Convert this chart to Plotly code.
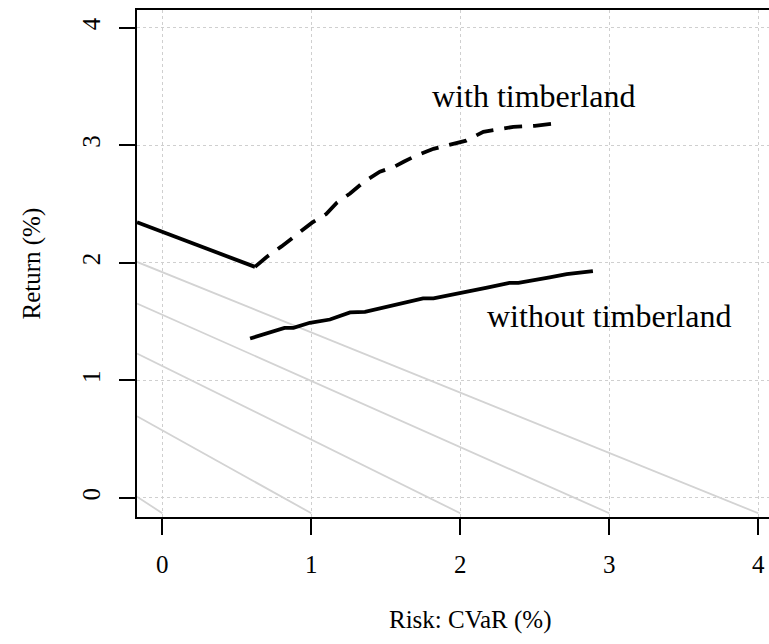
import plotly.graph_objects as go

# ---- data ----
# upper solid segment (low-risk part of frontier)
seg_x = [-0.17, 0.0, 0.622]
seg_y = [2.345, 2.264, 1.966]

# with timberland (dashed)
with_x = [0.622, 0.70, 0.80, 0.912, 1.003, 1.10, 1.17, 1.26, 1.354, 1.46, 1.56, 1.62,
          1.70, 1.82, 1.91, 2.04, 2.155, 2.27, 2.356, 2.50, 2.64]
with_y = [1.966, 2.05, 2.14, 2.245, 2.34, 2.415, 2.51, 2.59, 2.69, 2.775, 2.82, 2.86,
          2.91, 2.97, 3.00, 3.04, 3.115, 3.14, 3.157, 3.166, 3.186]

# without timberland (solid)
without_x = [0.589, 0.72, 0.82, 0.88, 0.99, 1.125, 1.26, 1.36, 1.55, 1.75, 1.82, 2.0,
             2.18, 2.33, 2.39, 2.60, 2.714, 2.89]
without_y = [1.356, 1.41, 1.447, 1.447, 1.49, 1.518, 1.578, 1.583, 1.64, 1.697, 1.697, 1.74,
             1.79, 1.83, 1.83, 1.876, 1.904, 1.93]

# grey iso-lines: left-edge value and bottom end point
iso_left_x = -0.17
iso_left_y = [0.01, 0.695, 1.229, 1.654, 2.008]
iso_end_x = [0, 1, 2, 3, 4]
iso_end_y = -0.13

x_ticks = [0, 1, 2, 3, 4]
y_ticks = [0, 1, 2, 3, 4]
x_range = [-0.17, 4.072]
y_range = [-0.162, 4.151]

FONT = "Liberation Serif"

fig = go.Figure()

for ly, ex in zip(iso_left_y, iso_end_x):
    fig.add_trace(go.Scatter(x=[iso_left_x, ex], y=[ly, iso_end_y], mode="lines",
                             line=dict(color="#d3d3d3", width=1.8),
                             showlegend=False, hoverinfo="skip"))

fig.add_trace(go.Scatter(x=seg_x, y=seg_y, mode="lines",
                         line=dict(color="black", width=3.8), showlegend=False))
fig.add_trace(go.Scatter(x=with_x, y=with_y, mode="lines",
                         line=dict(color="black", width=3.8, dash="18px,11px"),
                         showlegend=False))
fig.add_trace(go.Scatter(x=without_x, y=without_y, mode="lines",
                         line=dict(color="black", width=3.8), showlegend=False))

fig.add_annotation(x=2.495, y=3.42, text="with timberland", showarrow=False,
                   font=dict(family=FONT, size=32, color="black"),
                   xanchor="center", yanchor="middle")
fig.add_annotation(x=3.0, y=1.546, text="without timberland", showarrow=False,
                   font=dict(family=FONT, size=32, color="black"),
                   xanchor="center", yanchor="middle")

# axis titles
fig.add_annotation(xref="paper", yref="paper", x=0.527, y=0, yshift=-103,
                   text="Risk: CVaR (%)", showarrow=False,
                   font=dict(family=FONT, size=25, color="black"),
                   xanchor="center", yanchor="middle")
fig.add_annotation(xref="paper", yref="paper", x=0, xshift=-106, y=0.5,
                   text="Return (%)", showarrow=False, textangle=-90,
                   font=dict(family=FONT, size=25, color="black"),
                   xanchor="center", yanchor="middle")

axis_common = dict(
    showline=True, linecolor="black", linewidth=2,
    ticks="outside", ticklen=16, tickwidth=2, tickcolor="black",
    showgrid=True, gridcolor="#cfcfcf", gridwidth=1.2, griddash="dot",
    zeroline=False, tickfont=dict(family=FONT, size=25, color="black"),
)

fig.update_xaxes(range=x_range, tickvals=x_ticks, ticktext=[str(v) for v in x_ticks],
                 mirror=True, ticklabelstandoff=8, **axis_common)
fig.update_yaxes(range=y_range, tickvals=y_ticks, ticktext=[str(v) for v in y_ticks],
                 tickangle=-90, ticklabelstandoff=9, **axis_common)

fig.update_layout(width=769, height=644,
                  margin=dict(l=137, r=0, t=10, b=127),
                  plot_bgcolor="white", paper_bgcolor="white",
                  font=dict(family=FONT, color="black"))

# remove the page's default body margin so the figure fills the window exactly
fig.write_html("out.html",
               config={"displayModeBar": False},
               post_script="document.body.style.margin='0';"
                           "document.body.style.overflow='hidden';")
